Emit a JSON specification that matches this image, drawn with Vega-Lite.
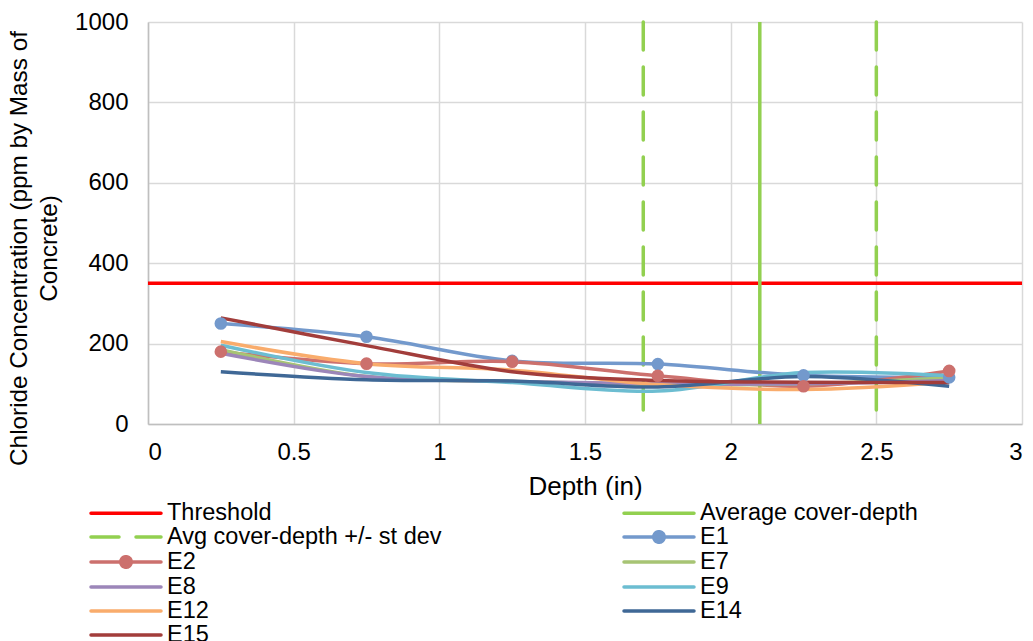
{
  "$schema": "https://vega.github.io/schema/vega-lite/v6.json",
  "width": 874,
  "height": 402,
  "autosize": {"type": "none"},
  "padding": {"left": 148, "top": 22, "right": 11, "bottom": 217},
  "background": "white",
  "config": {
    "view": {"stroke": null},
    "font": "Liberation Sans",
    "axis": {
      "labelFont": "Liberation Sans",
      "titleFont": "Liberation Sans",
      "labelFontSize": 24,
      "titleFontSize": 25,
      "titleFontWeight": "normal",
      "labelColor": "black",
      "titleColor": "black",
      "gridColor": "#D9D9D9",
      "gridWidth": 1.5,
      "domainColor": "#BFBFBF",
      "domainWidth": 1.5,
      "ticks": false
    },
    "legend": {
      "orient": "none",
      "legendX": -34,
      "legendY": 479,
      "columns": 2,
      "columnPadding": 175,
      "rowPadding": -1.6,
      "padding": 0,
      "symbolSize": 400,
      "symbolStrokeWidth": 3.5,
      "symbolType": "M-3.5,0H3.5",
      "labelFont": "Liberation Sans",
      "labelFontSize": 23.5,
      "labelColor": "black",
      "labelOffset": 29,
      "labelLimit": 600
    }
  },
  "datasets": {
    "samples": [
      {"series": "E1", "depth": 0.25, "conc": 250},
      {"series": "E1", "depth": 0.75, "conc": 217},
      {"series": "E1", "depth": 1.25, "conc": 157},
      {"series": "E1", "depth": 1.75, "conc": 149},
      {"series": "E1", "depth": 2.25, "conc": 121},
      {"series": "E1", "depth": 2.75, "conc": 116},
      {"series": "E2", "depth": 0.25, "conc": 180},
      {"series": "E2", "depth": 0.75, "conc": 150},
      {"series": "E2", "depth": 1.25, "conc": 155},
      {"series": "E2", "depth": 1.75, "conc": 120},
      {"series": "E2", "depth": 2.25, "conc": 94},
      {"series": "E2", "depth": 2.75, "conc": 132},
      {"series": "E7", "depth": 0.25, "conc": 185},
      {"series": "E7", "depth": 0.75, "conc": 118},
      {"series": "E7", "depth": 1.25, "conc": 106},
      {"series": "E7", "depth": 1.75, "conc": 98},
      {"series": "E7", "depth": 2.25, "conc": 100},
      {"series": "E7", "depth": 2.75, "conc": 115},
      {"series": "E8", "depth": 0.25, "conc": 176},
      {"series": "E8", "depth": 0.75, "conc": 118},
      {"series": "E8", "depth": 1.25, "conc": 106},
      {"series": "E8", "depth": 1.75, "conc": 100},
      {"series": "E8", "depth": 2.25, "conc": 100},
      {"series": "E8", "depth": 2.75, "conc": 108},
      {"series": "E9", "depth": 0.25, "conc": 196},
      {"series": "E9", "depth": 0.75, "conc": 128},
      {"series": "E9", "depth": 1.25, "conc": 103},
      {"series": "E9", "depth": 1.75, "conc": 82},
      {"series": "E9", "depth": 2.25, "conc": 128},
      {"series": "E9", "depth": 2.75, "conc": 120},
      {"series": "E12", "depth": 0.25, "conc": 205},
      {"series": "E12", "depth": 0.75, "conc": 150},
      {"series": "E12", "depth": 1.25, "conc": 134},
      {"series": "E12", "depth": 1.75, "conc": 98},
      {"series": "E12", "depth": 2.25, "conc": 86},
      {"series": "E12", "depth": 2.75, "conc": 104},
      {"series": "E14", "depth": 0.25, "conc": 130},
      {"series": "E14", "depth": 0.75, "conc": 110},
      {"series": "E14", "depth": 1.25, "conc": 107},
      {"series": "E14", "depth": 1.75, "conc": 92},
      {"series": "E14", "depth": 2.25, "conc": 118},
      {"series": "E14", "depth": 2.75, "conc": 94},
      {"series": "E15", "depth": 0.25, "conc": 264},
      {"series": "E15", "depth": 0.75, "conc": 195},
      {"series": "E15", "depth": 1.25, "conc": 130},
      {"series": "E15", "depth": 1.75, "conc": 108},
      {"series": "E15", "depth": 2.25, "conc": 104},
      {"series": "E15", "depth": 2.75, "conc": 103}
    ]
  },
  "encoding": {
    "color": {
      "field": "series",
      "type": "nominal",
      "scale": {
        "domain": ["Threshold", "Avg cover-depth +/- st dev", "E2", "E8", "E12", "E15", "Average cover-depth", "E1", "E7", "E9", "E14"],
        "range": ["#FF0000", "#92D050", "#CC706D", "#9C86B9", "#F9AC6C", "#A23D3B", "#92D050", "#7399CC", "#A7C474", "#6CBDD1", "#3F6896"]
      },
      "legend": {
        "title": null,
        "encode": {
          "symbols": {
            "update": {
              "shape": {"signal": "indexof(['E1','E2'], datum.value) >= 0 ? 'M-3.5,0H3.5M0.525,0A0.525,0.525,0,1,1,-0.525,0A0.525,0.525,0,1,1,0.525,0Z' : 'M-3.5,0H3.5'"},
              "strokeDash": {"signal": "datum.value === 'Avg cover-depth +/- st dev' ? [28,17] : [1,0]"},
              "strokeCap": {"value": "round"},
              "fill": {"scale": "color", "field": "value"},
              "stroke": {"scale": "color", "field": "value"},
              "opacity": {"value": 1},
              "strokeWidth": {"value": 3.5}
            }
          }
        }
      }
    }
  },
  "layer": [
    {
      "data": {"values": [{"series": "Threshold", "conc": 350}]},
      "mark": {"type": "rule", "strokeWidth": 3.5},
      "encoding": {
        "y": {"field": "conc", "type": "quantitative"}
      }
    },
    {
      "data": {"values": [{"series": "Average cover-depth", "depth": 2.1}]},
      "mark": {"type": "rule", "strokeWidth": 3.5},
      "encoding": {
        "x": {"field": "depth", "type": "quantitative"}
      }
    },
    {
      "data": {"values": [{"series": "Avg cover-depth +/- st dev", "depth": 1.7}, {"series": "Avg cover-depth +/- st dev", "depth": 2.5}]},
      "mark": {"type": "rule", "strokeWidth": 3.5, "strokeDash": [28, 17], "strokeCap": "round"},
      "encoding": {
        "x": {"field": "depth", "type": "quantitative"}
      }
    },
    {
      "data": {"name": "samples"},
      "mark": {"type": "line", "interpolate": "cardinal", "strokeWidth": 3.5},
      "encoding": {
        "x": {
          "field": "depth",
          "type": "quantitative",
          "scale": {"domain": [0, 3], "nice": false, "zero": false},
          "axis": {
            "values": [0, 0.5, 1, 1.5, 2, 2.5, 3],
            "format": "~f",
            "title": "Depth (in)",
            "titleFontSize": 26,
            "grid": true,
            "labelPadding": 16,
            "titleY": 70,
            "titleBaseline": "alphabetic"
          }
        },
        "y": {
          "field": "conc",
          "type": "quantitative",
          "scale": {"domain": [0, 1000], "nice": false},
          "axis": {
            "values": [0, 200, 400, 600, 800, 1000],
            "format": "d",
            "title": ["Chloride Concentration (ppm by Mass of", "Concrete)"],
            "titleFontSize": 24.3,
            "grid": true,
            "labelPadding": 20,
            "titleX": -141,
            "titleY": 226,
            "titleBaseline": "top",
            "titleAlign": "center",
            "titleLineHeight": 30
          }
        }
      }
    },
    {
      "data": {"name": "samples"},
      "transform": [{"filter": "datum.series === 'E1' || datum.series === 'E2'"}],
      "mark": {"type": "point", "filled": true, "size": 160, "opacity": 1},
      "encoding": {
        "x": {"field": "depth", "type": "quantitative"},
        "y": {"field": "conc", "type": "quantitative"}
      }
    }
  ]
}
